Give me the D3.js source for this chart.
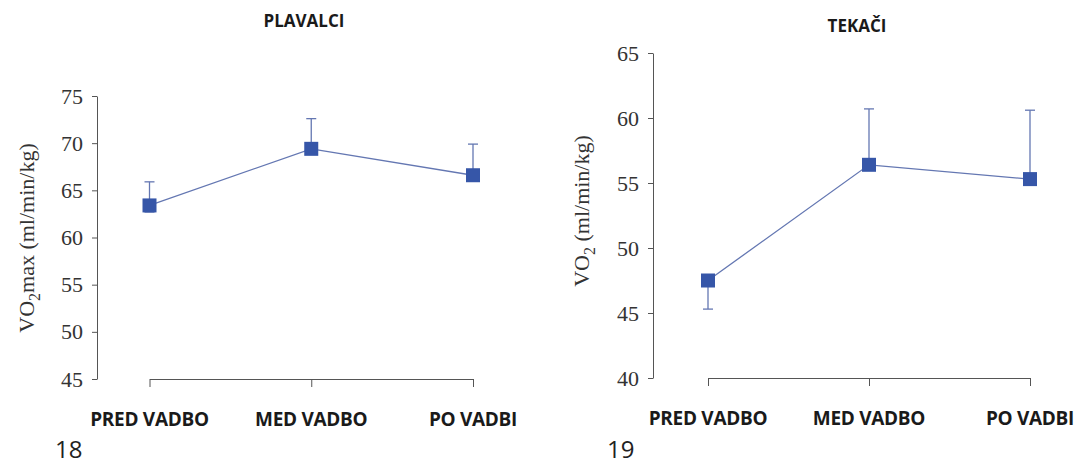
<!DOCTYPE html>
<html>
<head>
<meta charset="utf-8">
<script src="https://cdn.jsdelivr.net/npm/d3@7"></script>
<style>
  body { margin: 0; background: #fff; }
  svg { display: block; }
  .y-axis text { font-family: "Liberation Serif", "DejaVu Serif", serif; font-size: 22px; fill: #333; }
  .y-axis path, .y-axis line, .x-axis path, .x-axis line { stroke: #555; }
  .cat { font-family: "Open Sans", sans-serif; font-weight: 700; font-size: 19px; letter-spacing: -0.3px; fill: #1a1a1a; }
  .title { font-family: "Open Sans", sans-serif; font-weight: 700; font-size: 17px; fill: #1a1a1a; }
  .ylabel { font-family: "Liberation Serif", serif; font-size: 22px; fill: #333; }
  .num { font-family: "Open Sans", sans-serif; font-size: 24px; fill: #222; }
</style>
</head>
<body>
<svg id="chart" width="1087" height="465"></svg>
<script>
// data
const phases = ["PRED VADBO", "MED VADBO", "PO VADBI"];

const swimMean  = [63.4, 69.4, 66.6];
const swimUpper = [65.9, 72.6, 69.9];
const swimLower = [62.7, null, null];
const swimTicks = [45, 50, 55, 60, 65, 70, 75];

const runMean  = [47.5, 56.4, 55.3];
const runUpper = [null, 60.7, 60.6];
const runLower = [45.3, null, null];
const runTicks = [40, 45, 50, 55, 60, 65];

const svg = d3.select("#chart");
const markColor = "#3656a8";
const lineColor = "#6477b2";

function drawPanel(opts) {
  const g = svg.append("g");
  const x = d3.scalePoint().domain(phases).range(opts.xRange);
  const y = d3.scaleLinear().domain(d3.extent(opts.ticks)).range(opts.yRange);

  // y axis
  g.append("g").attr("class", "y-axis")
    .attr("transform", `translate(${opts.axisX},0)`)
    .call(d3.axisLeft(y).tickValues(opts.ticks).tickSize(5).tickSizeOuter(0).tickPadding(9));

  // x axis (separate line under the points)
  g.append("g").attr("class", "x-axis")
    .attr("transform", `translate(0,${opts.yRange[0]})`)
    .call(d3.axisBottom(x).tickSize(8).tickSizeOuter(0).tickFormat(""));

  g.selectAll(".cat").data(phases).join("text")
    .attr("class", "cat")
    .attr("x", d => x(d))
    .attr("y", opts.yRange[0] + 47)
    .attr("text-anchor", "middle")
    .text(d => d);

  const rows = phases.map((p, i) => ({p, m: opts.mean[i], hi: opts.upper[i], lo: opts.lower[i]}));

  // error bars
  rows.forEach(r => {
    [r.hi, r.lo].forEach(v => {
      if (v == null) return;
      g.append("line").attr("x1", x(r.p)).attr("x2", x(r.p))
        .attr("y1", y(r.m)).attr("y2", y(v))
        .attr("stroke", lineColor).attr("stroke-width", 1.3);
      g.append("line").attr("x1", x(r.p) - 5).attr("x2", x(r.p) + 5)
        .attr("y1", y(v)).attr("y2", y(v))
        .attr("stroke", lineColor).attr("stroke-width", 1.3);
    });
  });

  // mean line
  g.append("path").datum(rows)
    .attr("fill", "none").attr("stroke", lineColor).attr("stroke-width", 1.3)
    .attr("d", d3.line().x(d => x(d.p)).y(d => y(d.m)));

  // markers
  const s = 14;
  g.selectAll(".mark").data(rows).join("rect")
    .attr("class", "mark")
    .attr("x", d => x(d.p) - s / 2).attr("y", d => y(d.m) - s / 2)
    .attr("width", s).attr("height", s)
    .attr("fill", markColor);

  // y label with subscript
  const yl = g.append("text").attr("class", "ylabel")
    .attr("transform", `translate(${opts.labelX},${opts.labelY}) rotate(-90)`)
    .attr("text-anchor", "middle");
  yl.append("tspan").text("VO");
  yl.append("tspan").attr("dy", 6).attr("font-size", 16).text("2");
  yl.append("tspan").attr("dy", -6).text(opts.labelRest);

  g.append("text").attr("class", "title")
    .attr("x", opts.titleX).attr("y", opts.titleY)
    .attr("text-anchor", "middle").text(opts.title);

  g.append("text").attr("class", "num")
    .attr("x", opts.numX).attr("y", 458).text(opts.num);
}

drawPanel({
  xRange: [149.5, 473], yRange: [379, 96], axisX: 97,
  ticks: swimTicks, mean: swimMean, upper: swimUpper, lower: swimLower,
  labelX: 34, labelY: 238, labelRest: "max (ml/min/kg)",
  title: "PLAVALCI", titleX: 304, titleY: 27, num: "18", numX: 55
});

drawPanel({
  xRange: [708, 1030], yRange: [378, 53], axisX: 653,
  ticks: runTicks, mean: runMean, upper: runUpper, lower: runLower,
  labelX: 589, labelY: 211, labelRest: " (ml/min/kg)",
  title: "TEKAČI", titleX: 857, titleY: 32, num: "19", numX: 607
});
</script>
</body>
</html>
